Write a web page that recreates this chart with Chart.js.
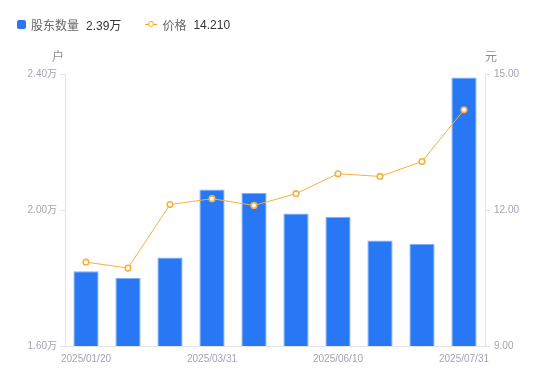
<!DOCTYPE html>
<html>
<head>
<meta charset="utf-8">
<script src="https://cdn.jsdelivr.net/npm/chart.js@4"></script>
<style>
  html, body { margin:0; padding:0; background:#fff; }
  #wrap { position:relative; width:550px; height:381px; }
  canvas { position:absolute; left:0; top:0; }
  .legend { position:absolute; top:16px; left:17px; font-family:"Liberation Sans","Noto Sans CJK SC",sans-serif; font-size:12px; display:flex; align-items:center; white-space:nowrap; }
  .sq { display:inline-block; width:9px; height:9px; background:#2878f5; border-radius:2px; margin-right:5px; }
  .lab { color:#666; margin-right:7px; }
  .val { color:#333; }
  .mk { position:relative; display:inline-block; width:12px; height:9px; margin-right:5px; }
  .mk:before { content:""; position:absolute; left:0; right:0; top:4px; height:1px; background:#f5a623; }
  .mk:after { content:""; position:absolute; left:3px; top:1px; width:4px; height:4px; border:1.5px solid #f5a623; border-radius:50%; background:#fff; }
</style>
</head>
<body>
<div id="wrap">
  <canvas id="c" width="550" height="381"></canvas>
  <div class="legend">
    <span class="sq"></span><span class="lab">股东数量</span><span class="val" id="v1"></span>
    <span style="display:inline-block;width:24px"></span>
    <span class="mk"></span><span class="lab">价格</span><span class="val" id="v2"></span>
  </div>
</div>
<script>
const categories = ['2025/01/20','2025/02/10','2025/02/28','2025/03/31','2025/04/18','2025/05/20','2025/06/10','2025/06/20','2025/06/30','2025/07/31'];
const shownLabels = ['2025/01/20','2025/03/31','2025/06/10','2025/07/31'];
const holders = [1.82, 1.80, 1.86, 2.06, 2.05, 1.99, 1.98, 1.91, 1.90, 2.39]; // 万户
const price = [10.85, 10.72, 12.12, 12.25, 12.10, 12.36, 12.80, 12.74, 13.07, 14.21]; // 元
const holderTicks = [1.60, 2.00, 2.40];
const priceTicks = [9.00, 12.00, 15.00];

document.getElementById('v1').textContent = holders[holders.length-1].toFixed(2) + '万';
document.getElementById('v2').textContent = price[price.length-1].toFixed(3);

const FONT = '"Liberation Sans","Noto Sans CJK SC",sans-serif';
const tickColor = '#a3a3b5';
const axisColor = '#e3e3e8';

const titles = {
  id: 'axisTitles',
  afterDraw(chart) {
    const ctx = chart.ctx;
    const a = chart.chartArea;
    ctx.save();
    ctx.font = '12px ' + FONT;
    ctx.fillStyle = '#8c8c9c';
    ctx.textAlign = 'center';
    ctx.textBaseline = 'middle';
    ctx.fillText('户', a.left - 7, a.top - 16);
    ctx.fillText('元', a.right + 6, a.top - 16);
    ctx.restore();
  }
};

new Chart(document.getElementById('c'), {
  data: {
    labels: categories,
    datasets: [
      {
        type: 'line', label: '价格', data: price, yAxisID: 'y1',
        borderColor: '#f7b03c', borderWidth: 1, backgroundColor: '#fff',
        pointRadius: 2.8, pointBorderWidth: 1.6, pointBorderColor: '#f7b03c', pointBackgroundColor: '#fff',
        tension: 0, order: 0
      },
      {
        type: 'bar', label: '股东数量', data: holders, yAxisID: 'y',
        backgroundColor: '#2878f5', borderColor: '#7fb0fa', borderWidth: 1,
        barPercentage: 0.6, categoryPercentage: 1.0, order: 1
      }
    ]
  },
  options: {
    responsive: false, animation: false,
    layout: { padding: { top: 74, left: 0, right: 0, bottom: 0 } },
    plugins: { legend: { display: false }, tooltip: { enabled: false } },
    scales: {
      x: {
        grid: { display: true, drawOnChartArea: false, drawTicks: false, color: axisColor },
        border: { display: true, color: axisColor },
        ticks: {
          autoSkip: false, maxRotation: 0, color: tickColor, font: { size: 10, family: FONT }, padding: 7,
          callback: function(v, i) { const l = categories[i]; return shownLabels.includes(l) ? l : ''; }
        },
        afterFit: s => { s.height = 35; }
      },
      y: {
        position: 'left', min: 1.6, max: 2.4,
        afterBuildTicks: s => { s.ticks = holderTicks.map(v => ({ value: v })); },
        grid: { drawOnChartArea: false, drawTicks: true, tickLength: 5, color: axisColor },
        border: { color: axisColor },
        ticks: { color: tickColor, font: { size: 10, family: FONT }, padding: 3, callback: v => v.toFixed(2) + '万' },
        afterFit: s => { s.width = 65; }
      },
      y1: {
        position: 'right', min: 9, max: 15,
        afterBuildTicks: s => { s.ticks = priceTicks.map(v => ({ value: v })); },
        grid: { drawOnChartArea: false, drawTicks: true, tickLength: 5, color: axisColor },
        border: { color: axisColor },
        ticks: { color: tickColor, font: { size: 10, family: FONT }, padding: 4, callback: v => v.toFixed(2) },
        afterFit: s => { s.width = 65; }
      }
    }
  },
  plugins: [titles]
});
</script>
</body>
</html>
